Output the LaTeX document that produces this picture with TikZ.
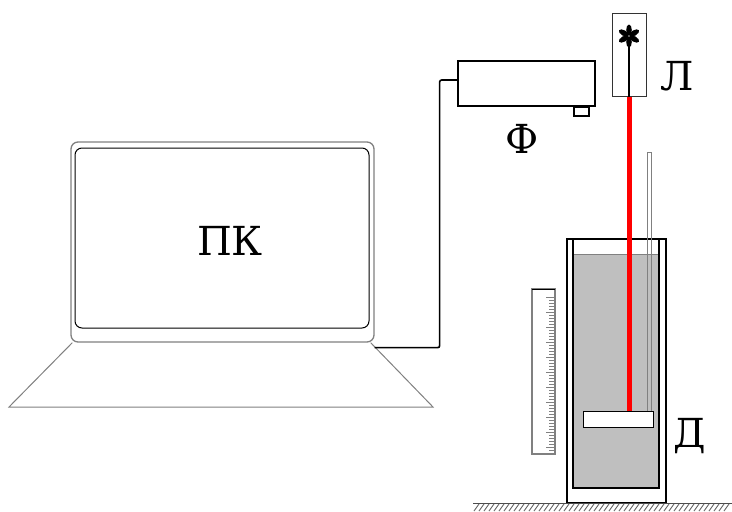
\documentclass[tikz,border=0pt]{standalone}
\usepackage{fontspec}
\setmainfont{DejaVu Serif}
\tikzset{
  lbl/.style={anchor=base, inner sep=0pt, font=\fontsize{40}{46}\selectfont},
  box/.style={rectangle, draw, line width=2pt, inner sep=0pt},
  thinbox/.style={rectangle, draw, line width=1pt, inner sep=0pt},
  liquid/.style={fill=black!25},
  petal/.style={fill=black},
}
\begin{document}
\begin{tikzpicture}[x=1pt,y=-1pt]
		\useasboundingbox (0,0) rectangle (732,512);
		% Laptop
		\node[rectangle, draw=gray, line width=1.3pt, rounded corners=7pt, minimum width=303pt, minimum height=200pt](pc) at (222.5,242) {};
		\node[rectangle, draw, line width=1pt, rounded corners=7pt, minimum width=294pt, minimum height=180pt](screen) at (222,238) {};
		\node[lbl](pclabel) at (230,255) {ПК};
		\draw[gray, line width=1pt] ([xshift=2pt]pc.south west) -- (9,407) -- (433,407) -- ([xshift=-4pt]pc.south east);
		% Photodetector and cable
		\node[box, minimum width=137pt, minimum height=45pt](phot) at (526.5,83.5) {};
		\node[box, line width=1.5pt, minimum width=15pt, minimum height=9pt, anchor=north](lens) at (581.5,106) {};
		\node[lbl](photlabel) at (522,153) {Ф};
		\draw[line width=1.6pt, rounded corners=2pt] ([yshift=-5pt]pc.south east) -- ++(65,0) |- ([yshift=3.5pt]phot.west);
		% Laser with its lamp
		\node[thinbox, draw=black!80, minimum width=34pt, minimum height=83pt](laser) at (629,54.5) {};
		\node[lbl](laserlabel) at (677,90) {Л};
		\foreach \a in {30,90,...,330}
			\fill[petal, rotate around={\a:(629,36)}] (629,36) ++(6,0) ellipse (5.5 and 2.8);
		\draw[line width=1.5pt] (629,44) -- (laser.south);
		% Vessel with liquid
		\fill[liquid] (573,254) rectangle (659,488);
		\draw[gray, line width=1pt] (573,254) -- (659,254);
		\draw[line width=2pt] (567,239) rectangle (666,503);
		\draw[line width=2pt] (573,239) -- (573,488) -- (659,488) -- (659,239);
		\draw[gray, line width=1pt] (647,411) -- (647,152) -- (651,152) -- (651,411);
		\node[thinbox, fill=white, minimum width=70pt, minimum height=16pt](disk) at (618,419) {};
		\draw[red, line width=5pt] (laser.south) -- (laser.south |- disk.north);
		\node[lbl](disklabel) at (690,447) {Д};
		% Ruler
		\draw[gray, line width=1.2pt] (532,454) -- (532,289) -- (555,289) -- (555,454) -- cycle;
		\draw[black, line width=1pt] (532,289) -- (555,289);
		\foreach \k in {0,...,51}{
			\pgfmathsetmacro{\len}{mod(\k,5)==0 ? 9 : 6}
			\draw[gray, line width=0.8pt] (555,297+3*\k) -- ++(-\len,0);
		}
		% Floor
		\draw[black!70, line width=1pt] (473,503) -- (732,503);
		\foreach \x in {474,479,...,726}
			\draw[black!60, line width=0.9pt] (\x,511) -- ++(5,-7);
	\end{tikzpicture}
\end{document}
